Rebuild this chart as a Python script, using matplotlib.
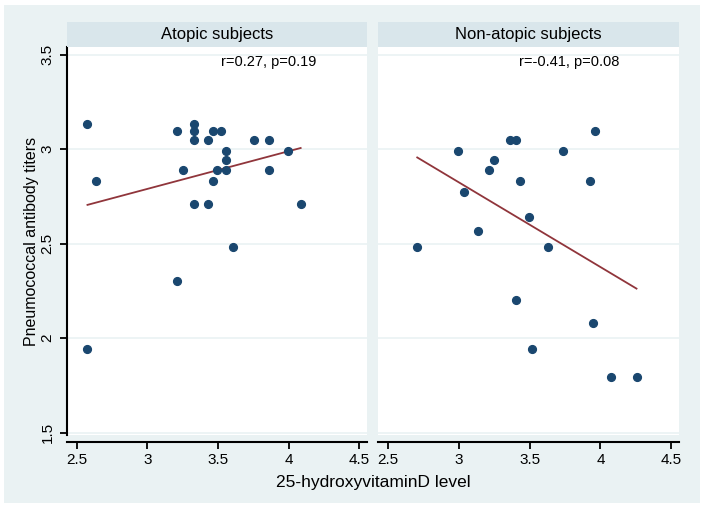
import numpy as np
import matplotlib
matplotlib.use("Agg")
import matplotlib.pyplot as plt
from matplotlib.patches import Rectangle

plt.rcParams['font.family'] = ['Liberation Sans Narrow', 'Liberation Sans', 'DejaVu Sans']

# data
atopic_x = [2.575, 2.637, 2.575, 3.212, 3.212, 3.255, 3.330, 3.330, 3.330, 3.330,
            3.432, 3.432, 3.467, 3.519, 3.467, 3.491, 3.557, 3.557, 3.557, 3.606,
            3.757, 3.858, 3.858, 3.998, 4.085]
atopic_y = [3.133, 2.832, 1.943, 3.095, 2.304, 2.889, 3.133, 3.095, 3.048, 2.708,
            3.048, 2.708, 3.095, 3.095, 2.832, 2.889, 2.991, 2.943, 2.889, 2.482,
            3.048, 3.048, 2.889, 2.991, 2.708]

nonatopic_x = [2.707, 2.998, 3.036, 3.136, 3.214, 3.252, 3.362, 3.405, 3.431, 3.402,
               3.495, 3.519, 3.633, 3.733, 3.924, 3.964, 3.950, 4.076, 4.255]
nonatopic_y = [2.482, 2.991, 2.774, 2.567, 2.889, 2.943, 3.048, 3.048, 2.832, 2.200,
               2.643, 1.943, 2.482, 2.991, 2.832, 3.095, 2.078, 1.793, 1.793]

panel_titles = ["Atopic subjects", "Non-atopic subjects"]
stats_labels = ["r=0.27, p=0.19", "r=-0.41, p=0.08"]
stats_xpos = [3.86, 3.78]
x_ticks = [2.5, 3, 3.5, 4, 4.5]
y_ticks = [1.5, 2, 2.5, 3, 3.5]

W, H = 704, 507
bg = "#eaf2f3"
strip_col = "#d9e6eb"
navy = "#1a476f"
maroon = "#90353b"

fig = plt.figure(figsize=(W / 100, H / 100), dpi=100, facecolor="white")
fig.patches.append(Rectangle((4 / W, 4 / H), 696 / W, 498 / H, transform=fig.transFigure,
                             facecolor=bg, edgecolor="none", zorder=-10))

def fx(px):
    return px / W

def fy(py):
    return 1 - py / H

panels = [(67, 367), (378, 679)]
top, bottom = 47, 435
datasets = [(atopic_x, atopic_y), (nonatopic_x, nonatopic_y)]

for i, ((l, r), (xs, ys)) in enumerate(zip(panels, datasets)):
    ax = fig.add_axes([fx(l), fy(bottom), fx(r - l), (bottom - top) / H])
    ax.set_facecolor("white")
    ax.set_xlim(2.43, 4.555)
    ax.set_ylim(1.488, 3.541)
    for yv in y_ticks:
        ax.axhline(yv, color=bg, lw=1.2, zorder=0)
    ax.plot(xs, ys, 'o', color=navy, ms=5.6, mec=navy, zorder=3)
    xs_a = np.array(xs)
    b, a = np.polyfit(xs_a, np.array(ys), 1)
    xl = np.array([xs_a.min(), xs_a.max()])
    ax.plot(xl, a + b * xl, color=maroon, lw=1.3, zorder=2)
    ax.text(stats_xpos[i], 3.46, stats_labels[i], ha="center", va="center", fontsize=10.5)

    for s in ["top", "right"]:
        ax.spines[s].set_visible(False)
    ax.spines["bottom"].set_position(("outward", 5))
    ax.spines["bottom"].set_linewidth(1.5)
    ax.set_xticks(x_ticks)
    ax.set_xticklabels([f"{t:g}" for t in x_ticks], fontsize=11)
    ax.tick_params(axis="x", length=5, width=1.3, pad=3)
    if i == 0:
        ax.spines["left"].set_linewidth(1.5)
        ax.set_yticks(y_ticks)
        ax.set_yticklabels([f"{t:g}" for t in y_ticks], fontsize=11, rotation=90, va="center")
        ax.tick_params(axis="y", length=5, width=1.3, pad=4)
        ax.set_ylabel("Pneumococcal antibody titers", fontsize=11.5, labelpad=1)
    else:
        ax.spines["left"].set_visible(False)
        ax.set_yticks([])

    sax = fig.add_axes([fx(l), fy(top), fx(r - l), 25 / H])
    sax.set_facecolor(strip_col)
    sax.set_xticks([])
    sax.set_yticks([])
    for s in sax.spines.values():
        s.set_visible(False)
    sax.text(0.5, 0.5, panel_titles[i], ha="center", va="center", fontsize=12,
             transform=sax.transAxes)

fig.text(fx(373), fy(482), "25-hydroxyvitaminD level", ha="center", va="center", fontsize=12.5)

fig.savefig("out.png", dpi=100, facecolor="white")
